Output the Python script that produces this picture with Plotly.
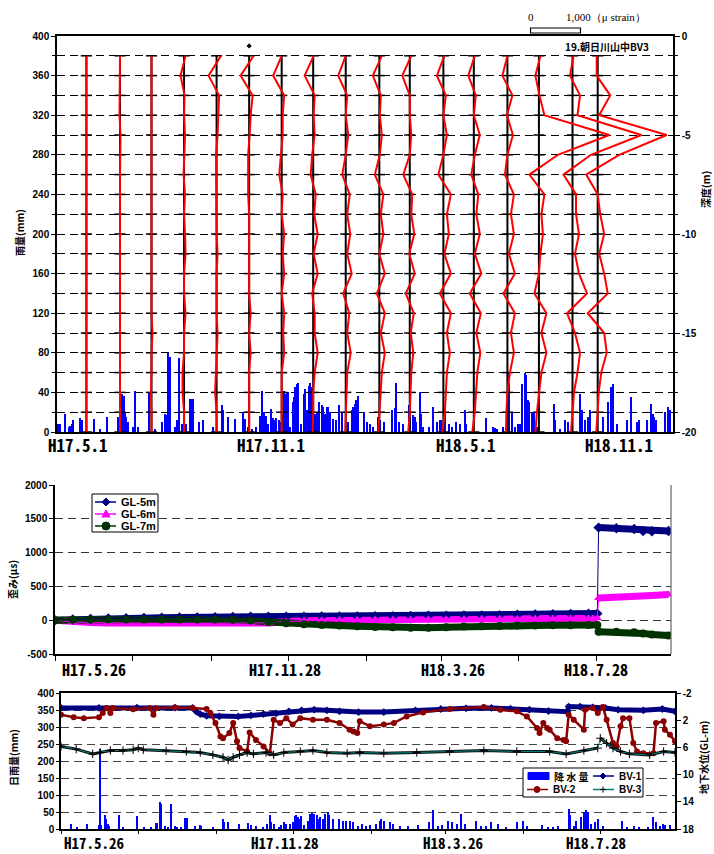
import numpy as np
import pandas as pd
import plotly.graph_objects as go

FIG_W, FIG_H = 714, 854


def fx(p):
    return p / FIG_W


def fy(p):
    return 1 - p / FIG_H


# ------------------------------------------------------------------
# Panel 1 : daily rainfall and monthly strain profiles (BV3)
# ------------------------------------------------------------------
TOP_START = pd.Timestamp("2005-04-03")
TOP_END = pd.Timestamp("2006-11-10 17:00")

# (day offset from TOP_START, daily rainfall mm)
RAIN_TOP = [
    (1, 8), (3, 8), (8, 18), (11, 5), (12, 6), (14, 8), (15, 12), (22, 14), (24, 12), (35, 13),
    (41, 3), (48, 15), (58, 15), (62, 38), (64, 36), (65, 20), (66, 15), (68, 10), (72, 5), (74, 41),
    (77, 5), (88, 40), (93, 3), (100, 10), (103, 18), (104, 17), (106, 80), (108, 76), (112, 5), (114, 12),
    (116, 75), (119, 8), (120, 5), (123, 8), (127, 33), (128, 33), (130, 33), (135, 10), (139, 12), (149, 5),
    (157, 27), (158, 22), (163, 15), (170, 13), (177, 20), (179, 13), (182, 5), (186, 3), (190, 5), (193, 16),
    (195, 41), (197, 20), (199, 16), (201, 8), (204, 23), (206, 14), (208, 12), (209, 14), (211, 12), (212, 10),
    (214, 18), (216, 41), (217, 38), (219, 40), (220, 40), (222, 5), (225, 30), (226, 35), (227, 45), (229, 48),
    (230, 49), (232, 8), (235, 38), (236, 43), (238, 22), (239, 22), (240, 46), (241, 49), (242, 45), (244, 43),
    (246, 18), (248, 20), (249, 18), (250, 30), (252, 27), (253, 25), (255, 18), (257, 25), (258, 25), (260, 20),
    (263, 13), (266, 12), (269, 27), (271, 20), (277, 10), (281, 22), (282, 25), (284, 28), (285, 32), (287, 36),
    (292, 20), (295, 10), (298, 8), (301, 5), (306, 15), (308, 12), (311, 10), (319, 22), (322, 24), (323, 50),
    (326, 10), (330, 8), (335, 27), (336, 15), (339, 17), (341, 15), (342, 10), (346, 40), (347, 18), (349, 5),
    (354, 5), (358, 25), (362, 10), (365, 12), (366, 12), (370, 22), (373, 8), (376, 5), (380, 10), (384, 8),
    (389, 22), (390, 8), (409, 14), (415, 5), (417, 4), (419, 3), (425, 5), (428, 5), (430, 60), (431, 50),
    (433, 20), (436, 5), (439, 8), (441, 8), (443, 48), (446, 60), (447, 58), (449, 32), (450, 30), (452, 20),
    (454, 20), (457, 5), (473, 28), (474, 12), (479, 3), (484, 12), (487, 10), (498, 38), (500, 22), (503, 12),
    (506, 15), (508, 22), (514, 5), (520, 15), (525, 30), (528, 45), (530, 48), (533, 8), (543, 12), (547, 35),
    (552, 10), (554, 12), (562, 12), (566, 28), (568, 18), (569, 15), (571, 12), (579, 20), (582, 25), (584, 22),
]
rain_top_day = [d for d, _ in RAIN_TOP]
rain_top_mm = [v for _, v in RAIN_TOP]

PROFILE_DATES = [
    "2005-05-01", "2005-06-02", "2005-07-02", "2005-08-02", "2005-09-02", "2005-10-03",
    "2005-11-03", "2005-12-03", "2006-01-03", "2006-02-04", "2006-03-05", "2006-04-06",
    "2006-05-05", "2006-06-06", "2006-07-06", "2006-08-07", "2006-08-31",
]
DEPTHS = [-1, -2, -3, -4, -5, -6, -7, -8, -9, -10, -11, -12, -13, -14, -15, -16, -17, -18, -19, -20]

# strain (micro strain) at each depth, one row per measurement date
PROFILES = [
    [0, 0, 0, 0, 0, 0, 0, 0, 0, 0, 0, 0, 0, 0, 0, 0, 0, 0, 0, 0],
    [0, 0, 0, -10, 10, 0, 0, 0, 0, 0, 0, 0, 0, 0, 0, 10, 0, 0, 0, 0],
    [0, 0, 0, 0, 0, 0, 0, 0, 0, 0, 0, 0, 0, 0, 20, 0, 0, -10, 0, 0],
    [30, -70, 10, 0, 20, 0, -10, 20, 0, 20, 30, 0, 0, 30, 0, 0, -30, -30, 0, 0],
    [90, -160, 50, 40, 20, -10, -10, 0, 0, 0, 20, 0, 0, 0, 20, 0, -10, -30, 0, 0],
    [90, -170, 70, 30, 10, -20, -20, -20, 0, 0, 0, 0, 0, 30, 0, 30, 0, 0, 0, 0],
    [0, -170, 50, 20, 20, -20, -50, 20, 0, 50, 20, 50, 0, 50, 30, 50, 0, 0, 0, 0],
    [10, -170, 30, 10, 30, -20, -50, 50, 20, 90, 10, 90, -20, 30, 30, 90, 30, 0, 0, -10],
    [0, -150, 30, 0, 50, 0, -70, 80, 30, 90, 30, 120, -50, 70, 30, 100, 30, 20, 0, -10],
    [50, -130, 30, 10, 50, 10, -90, 80, 30, 80, 0, 110, -50, 110, 30, 110, 50, 30, 0, -20],
    [30, -150, 0, 0, 30, 0, -130, 50, 30, 90, -10, 100, -80, 80, 20, 70, 30, 20, 0, -30],
    [20, -130, 50, 0, 70, 0, -100, 150, 70, 110, 20, 150, -70, 150, 70, 130, 70, 50, 30, -20],
    [20, -110, 40, 0, 120, 20, -50, 90, 50, 120, 20, 150, -80, 140, 50, 130, 70, 40, 20, -30],
    [0, -100, 100, -10, 110, 0, -50, 130, 70, 130, 30, 150, -80, 150, 70, 130, 50, 0, -20, -30],
    [30, -70, 10, 110, 1410, 380, -190, 110, 50, 80, 30, 0, -90, 150, 50, 150, 50, 0, -40, -70],
    [20, -50, 150, 100, 1380, 370, -180, 70, 70, 130, 50, 130, 290, -110, 50, 150, 100, 30, 0, -30],
    [-20, -20, 250, 30, 1380, 430, -230, 0, 50, 130, 30, 130, 200, -200, 130, 180, 70, 20, 0, -30],
]
STRAY_POINT = ("2005-10-03", -0.5)

# horizontal scale of the profiles: 1,000 micro strain drawn as 47.6 days of axis
DAYS_PER_USTRAIN = 47.6 / 1000.0
SCALE_BAR_START = pd.Timestamp("2006-06-28")
SCALE_BAR_USTRAIN = 1000

TOP_TICK_TEXT = ["H17.5.1", "H17.11.1", "H18.5.1", "H18.11.1"]
TOP_TICK_PX = [78, 271, 466, 619]

# ------------------------------------------------------------------
# Panel 2 : strain gauge record GL-5m / GL-6m / GL-7m
# ------------------------------------------------------------------
SERIES_START = pd.Timestamp("2005-05-26")
SERIES_END = pd.Timestamp("2006-09-23")

STRAIN_DAY = [0, 14, 28, 42, 56, 70, 84, 98, 112, 126, 140, 154, 168, 182, 196, 210, 224, 238, 252,
              266, 280, 294, 308, 322, 336, 350, 364, 378, 392, 406, 420, 427, 428, 442, 456, 463,
              470, 483]
GL5 = [0, 10, 20, 25, 30, 35, 38, 40, 42, 45, 48, 50, 50, 52, 53, 55, 55, 56, 58, 60, 62, 65, 68,
       70, 72, 75, 80, 85, 88, 92, 95, 98, 1370, 1360, 1350, 1320, 1315, 1320]
GL6 = [0, -25, -35, -40, -40, -42, -45, -45, -45, -48, -50, -50, -40, -20, -5, 0, 5, 8, 10, 12,
       12, 15, 15, 18, 20, 22, 22, 25, 25, 28, 30, 30, 330, 335, 345, 355, 365, 380]
GL7 = [0, 5, 8, 10, 10, 10, 12, 12, 10, 10, 5, -5, -25, -45, -60, -70, -80, -90, -100, -105,
       -110, -110, -105, -95, -90, -85, -80, -80, -75, -75, -72, -72, -170, -172, -178, -195,
       -210, -225]
STRAIN_JUMP_DAY = 428

SERIES_TICK_TEXT = ["H17.5.26", "H17.11.28", "H18.3.26", "H18.7.28"]
SERIES_TICK_PX = [94, 285, 453, 596]

# ------------------------------------------------------------------
# Panel 3 : daily rainfall and groundwater level (GL-m)
# ------------------------------------------------------------------
RAIN_BOT = [
    (8, 14), (13, 3), (21, 15), (30, 12), (31, 235), (32, 12), (35, 40), (36, 30), (37, 15), (38, 10),
    (46, 40), (49, 5), (60, 38), (66, 5), (71, 5), (75, 18), (76, 18), (78, 80), (79, 75), (82, 10),
    (85, 5), (87, 75), (90, 8), (92, 5), (95, 5), (98, 32), (100, 32), (106, 10), (110, 12), (111, 8),
    (120, 5), (128, 28), (129, 22), (132, 20), (141, 15), (148, 18), (150, 12), (154, 8), (160, 5), (163, 15),
    (165, 40), (166, 20), (168, 15), (172, 5), (174, 12), (176, 20), (178, 15), (181, 15), (183, 22), (185, 38),
    (186, 40), (187, 35), (189, 30), (190, 38), (192, 12), (195, 25), (197, 45), (198, 48), (200, 45), (202, 40),
    (203, 30), (205, 35), (207, 30), (209, 45), (211, 50), (212, 40), (215, 30), (220, 30), (223, 25), (225, 25),
    (228, 25), (231, 20), (235, 10), (238, 15), (241, 10), (244, 12), (249, 15), (252, 25), (253, 30), (255, 25),
    (260, 20), (262, 15), (268, 10), (274, 10), (282, 12), (291, 20), (294, 55), (298, 10), (301, 12), (306, 25),
    (309, 20), (313, 15), (316, 45), (319, 15), (328, 25), (332, 10), (336, 10), (340, 20), (345, 15), (352, 5),
    (360, 20), (365, 25), (368, 8), (380, 12), (385, 5), (389, 5), (393, 10), (401, 60), (402, 40), (405, 8),
    (407, 25), (411, 35), (413, 50), (415, 55), (416, 50), (419, 15), (422, 20), (424, 30), (428, 10), (443, 25),
    (447, 5), (453, 8), (457, 5), (464, 5), (468, 35), (470, 20), (473, 10), (476, 15), (477, 12), (481, 12),
]
rain_bot_day = [d for d, _ in RAIN_BOT]
rain_bot_mm = [v for _, v in RAIN_BOT]

# groundwater level, metres below ground
BV1 = [
    (0, 0.2), (30, 0.2), (60, 0.15), (90, 0.15), (104, 0.2), (107, 0.75), (110, 1.1), (115, 1.35),
    (125, 1.45), (140, 1.45), (150, 1.3), (160, 1.1), (170, 1.0), (180, 0.7), (190, 0.55), (200, 0.45),
    (210, 0.55), (220, 0.7), (235, 0.8), (255, 0.8), (280, 0.55), (300, 0.35), (320, 0.25), (340, 0.2),
    (355, 0.3), (370, 0.45), (385, 0.65), (400, 0.75), (401, 0.0), (410, 0.0), (420, 0.1), (430, 0.2),
    (440, 0.45), (460, 0.55), (475, 0.35), (485, 0.7),
]
BV2 = [
    (0, 1.2), (10, 1.55), (18, 1.7), (30, 1.55), (33, 0.95), (36, 0.2), (39, 0.95), (41, 0.2),
    (57, 0.4), (70, 0.2), (73, 1.2), (75, 0.25), (90, 0.15), (104, 0.2), (115, 0.35), (118, 0.95),
    (122, 2.4), (126, 4.4), (128, 4.65), (133, 3.9), (136, 2.4), (139, 5.1), (141, 6.1), (147, 6.6),
    (149, 3.8), (154, 4.9), (160, 5.85), (165, 6.85), (168, 1.95), (173, 2.4), (178, 1.7), (183, 2.65),
    (189, 1.7), (199, 1.95), (210, 1.95), (220, 2.4), (228, 3.4), (231, 3.65), (234, 3.9), (236, 2.15),
    (244, 2.9), (255, 2.65), (263, 2.4), (273, 1.45), (286, 0.85), (307, 0.35), (334, 0.05), (347, 0.45),
    (360, 0.7), (368, 1.45), (376, 3.15), (378, 3.9), (381, 2.4), (384, 3.15), (386, 3.4), (392, 4.65),
    (397, 4.9), (399, 5.1), (401, 1.2), (405, 1.95), (413, 3.4), (414, 0.45), (420, 0.2), (424, 0.95),
    (428, 0.05), (431, 1.95), (436, 5.35), (439, 5.85), (442, 2.9), (444, 1.7), (449, 1.7), (452, 5.35),
    (455, 6.6), (460, 6.85), (468, 6.85), (470, 2.4), (476, 2.15), (477, 3.4), (481, 4.15), (485, 5.1),
]
BV3 = [
    (0, 5.85), (12, 6.25), (25, 6.95), (31, 6.75), (39, 6.45), (49, 6.45), (57, 6.35), (61, 6.1),
    (65, 6.35), (83, 6.5), (99, 6.6), (110, 6.75), (120, 7.1), (128, 7.45), (132, 7.85), (136, 7.45),
    (141, 7.1), (147, 6.75), (152, 6.95), (162, 6.75), (168, 7.1), (176, 6.75), (189, 6.6), (199, 6.45),
    (210, 6.75), (226, 6.85), (236, 6.75), (255, 6.85), (281, 6.75), (307, 6.6), (334, 6.45), (360, 6.6),
    (386, 6.6), (399, 6.95), (413, 6.45), (424, 6.1), (426, 4.65), (431, 5.4), (436, 6.1), (442, 6.6),
    (449, 6.95), (465, 7.1), (476, 6.6), (485, 6.75),
]
BV3_RISE_DAY = 426


def to_dates(start, days):
    return start + pd.to_timedelta(np.asarray(days, dtype=float), unit="D")


def band(x, y, break_idx):
    """Same series with a gap before break_idx (thick band without the jump segment)."""
    xs = list(x[:break_idx]) + [None] + list(x[break_idx:])
    ys = list(y[:break_idx]) + [None] + list(y[break_idx:])
    return xs, ys


BOLD = "bold"
NUM_FONT = dict(family="Liberation Sans, Arial, sans-serif", size=10, color="black", weight=BOLD)
JP_FONT = dict(family="Noto Sans CJK JP, sans-serif", size=10, color="black", weight=BOLD)
DATE_FONT = dict(family="Noto Sans Mono CJK JP, DejaVu Sans Mono, monospace",
                 size=17, color="black", weight=BOLD)
LEG_FONT = dict(family="Liberation Sans, Arial, sans-serif", size=11, color="black", weight=BOLD)
DASH = "8px,5px"

fig = go.Figure()

# ---- panel 1 traces
fig.add_trace(go.Bar(
    x=to_dates(TOP_START, rain_top_day), y=rain_top_mm, xaxis="x", yaxis="y",
    marker=dict(color="#0000FF", line=dict(width=0)), width=86400000 * 1.0,
    showlegend=False, hoverinfo="skip"))

for d in PROFILE_DATES:
    fig.add_trace(go.Scatter(
        x=[pd.Timestamp(d)] * len(DEPTHS), y=DEPTHS, xaxis="x", yaxis="y2",
        mode="lines+markers", line=dict(color="black", width=2),
        marker=dict(symbol="line-ew", size=8, line=dict(color="black", width=1.5)),
        showlegend=False, hoverinfo="skip"))

for d, prof in zip(PROFILE_DATES, PROFILES):
    xs = pd.Timestamp(d) + pd.to_timedelta(np.asarray(prof, dtype=float) * DAYS_PER_USTRAIN, unit="D")
    fig.add_trace(go.Scatter(
        x=xs, y=DEPTHS, xaxis="x", yaxis="y2", mode="lines",
        line=dict(color="#FF0000", width=2), showlegend=False, hoverinfo="skip"))

fig.add_trace(go.Scatter(
    x=[pd.Timestamp(STRAY_POINT[0])], y=[STRAY_POINT[1]], xaxis="x", yaxis="y2", mode="markers",
    marker=dict(symbol="diamond", size=4, color="black"), showlegend=False, hoverinfo="skip"))

# ---- panel 2 traces
strain_dates = to_dates(SERIES_START, STRAIN_DAY)
jump_idx = STRAIN_DAY.index(STRAIN_JUMP_DAY)
GL_COLORS = {"GL-5m": "#000080", "GL-6m": "#FF00FF", "GL-7m": "#003300"}
strain_series = [
    ("GL-5m", GL5, "diamond"),
    ("GL-6m", GL6, "triangle-up"),
    ("GL-7m", GL7, "circle"),
]
for name, vals, sym in strain_series:
    bx, by = band(strain_dates, vals, jump_idx)
    fig.add_trace(go.Scatter(
        x=bx, y=by, xaxis="x2", yaxis="y3", mode="lines",
        line=dict(color=GL_COLORS[name], width=7), showlegend=False, hoverinfo="skip"))
for name, vals, sym in strain_series:
    fig.add_trace(go.Scatter(
        x=strain_dates, y=vals, xaxis="x2", yaxis="y3", mode="lines+markers", name=name,
        line=dict(color=GL_COLORS[name], width=1),
        marker=dict(symbol=sym, size=8, color=GL_COLORS[name]),
        showlegend=False, hoverinfo="skip"))

# ---- panel 3 traces
fig.add_trace(go.Bar(
    x=to_dates(SERIES_START, rain_bot_day), y=rain_bot_mm, xaxis="x3", yaxis="y4",
    marker=dict(color="#0000FF", line=dict(width=0)), width=86400000 * 1.0,
    name="降水量", showlegend=False, hoverinfo="skip"))

bv1_d = to_dates(SERIES_START, [d for d, _ in BV1])
bv1_v = [v for _, v in BV1]
bv2_d = to_dates(SERIES_START, [d for d, _ in BV2])
bv2_v = [v for _, v in BV2]
bv3_days = [d for d, _ in BV3]
bv3_d = to_dates(SERIES_START, bv3_days)
bv3_v = [v for _, v in BV3]

BV1_COLOR, BV2_COLOR, BV3_LINE = "#000080", "#8B0000", "#008080"

fig.add_trace(go.Scatter(
    x=bv1_d, y=bv1_v, xaxis="x3", yaxis="y5", mode="lines",
    line=dict(color=BV1_COLOR, width=5), showlegend=False, hoverinfo="skip"))
fig.add_trace(go.Scatter(
    x=bv1_d, y=bv1_v, xaxis="x3", yaxis="y5", mode="lines+markers", name="BV-1",
    line=dict(color=BV1_COLOR, width=1), marker=dict(symbol="diamond", size=6, color=BV1_COLOR),
    showlegend=False, hoverinfo="skip"))

fig.add_trace(go.Scatter(
    x=bv2_d, y=bv2_v, xaxis="x3", yaxis="y5", mode="lines+markers", name="BV-2",
    line=dict(color=BV2_COLOR, width=2.5), marker=dict(symbol="circle", size=6, color=BV2_COLOR),
    showlegend=False, hoverinfo="skip"))

rise_idx = bv3_days.index(BV3_RISE_DAY)
b3x, b3y = band(bv3_d, bv3_v, rise_idx)
fig.add_trace(go.Scatter(
    x=b3x, y=b3y, xaxis="x3", yaxis="y5", mode="lines",
    line=dict(color="#111111", width=3), showlegend=False, hoverinfo="skip"))
fig.add_trace(go.Scatter(
    x=bv3_d, y=bv3_v, xaxis="x3", yaxis="y5", mode="lines+markers", name="BV-3",
    line=dict(color=BV3_LINE, width=1),
    marker=dict(symbol="cross-thin", size=6, color="black", line=dict(color="black", width=1)),
    showlegend=False, hoverinfo="skip"))

# ------------------------------------------------------------------
# axes
# ------------------------------------------------------------------
axis_common = dict(showline=True, linecolor="black", linewidth=1.5, tickfont=NUM_FONT,
                   ticks="outside", tickcolor="black", zeroline=False, automargin=False)

fig.update_layout(
    xaxis=dict(domain=[fx(57), fx(673)], anchor="y", type="date",
               range=[TOP_START, TOP_END], showline=True, linecolor="black", linewidth=1.5,
               mirror=True, showticklabels=False, ticks="", showgrid=False, zeroline=False,
               automargin=False),
    yaxis=dict(domain=[fy(432), fy(36)], anchor="x", range=[0, 400], tickvals=list(range(0, 401, 40)),
               ticklen=4, showgrid=False,
               minor=dict(dtick=20, ticks="outside", ticklen=3, tickcolor="black"),
               **axis_common),
    yaxis2=dict(overlaying="y", side="right", anchor="x", range=[-20, 0],
                tickvals=[0, -5, -10, -15, -20], ticktext=["0", "-5", "-10", "-15", "-20"],
                ticklen=5, showgrid=True, gridcolor="black", gridwidth=1, griddash=DASH,
                minor=dict(dtick=1, showgrid=True, gridcolor="black", gridwidth=1, griddash=DASH,
                           ticks="outside", ticklen=3, tickcolor="black"),
                **axis_common),

    xaxis2=dict(domain=[fx(55), fx(671)], anchor="y3", type="date",
                range=[SERIES_START, SERIES_END], showline=True, linecolor="black", linewidth=1.5,
                tick0=SERIES_START, dtick="M2", ticks="outside", ticklen=5, tickcolor="black",
                showticklabels=False, showgrid=False, zeroline=False, automargin=False),
    yaxis3=dict(domain=[fy(654), fy(485)], anchor="x2", range=[-500, 2000],
                tickvals=[-500, 0, 500, 1000, 1500, 2000],
                ticktext=["-500", "0", "500", "1000", "1500", "2000"], ticklen=4,
                showgrid=True, gridcolor="#333333", gridwidth=1, griddash=DASH, **axis_common),

    xaxis3=dict(domain=[fx(61), fx(675)], anchor="y4", type="date",
                range=[SERIES_START, SERIES_END], showline=True, linecolor="black", linewidth=1.5,
                mirror=True, tick0=SERIES_START, dtick="M2", ticks="outside", ticklen=3,
                tickcolor="black", showticklabels=False, showgrid=False, zeroline=False,
                automargin=False),
    yaxis4=dict(domain=[fy(829), fy(693)], anchor="x3", range=[0, 400],
                tickvals=list(range(0, 401, 50)), ticklen=3,
                showgrid=True, gridcolor="#444444", gridwidth=1, griddash=DASH, **axis_common),
    yaxis5=dict(overlaying="y4", side="right", anchor="x3", range=[18, -2],
                tickvals=[-2, 2, 6, 10, 14, 18], ticktext=["-2", "2", "6", "10", "14", "18"],
                ticklen=4, showgrid=False, **axis_common),
)

# ------------------------------------------------------------------
# shapes: scale bar, frames and hand-drawn legend keys
# ------------------------------------------------------------------
shapes = [
    dict(type="rect", xref="x", yref="paper",
         x0=SCALE_BAR_START,
         x1=SCALE_BAR_START + pd.Timedelta(days=SCALE_BAR_USTRAIN * DAYS_PER_USTRAIN),
         y0=fy(33), y1=fy(28), line=dict(color="black", width=1.2), fillcolor="white"),
    dict(type="line", xref="paper", yref="paper", x0=fx(671), x1=fx(671), y0=fy(654), y1=fy(485),
         line=dict(color="#666666", width=1.2)),
]


def key_line(x0, x1, y, color, width=1.5):
    return dict(type="line", xref="paper", yref="paper", x0=fx(x0), x1=fx(x1), y0=fy(y), y1=fy(y),
                line=dict(color=color, width=width), layer="above")


def key_path(points, color, fill=True):
    path = "M " + " L ".join(f"{fx(px):.5f},{fy(py):.5f}" for px, py in points) + " Z"
    return dict(type="path", xref="paper", yref="paper", path=path, layer="above",
                line=dict(color=color, width=1), fillcolor=color if fill else "rgba(0,0,0,0)")


def key_circle(cx, cy, r, color):
    return dict(type="circle", xref="paper", yref="paper", x0=fx(cx - r), x1=fx(cx + r),
                y0=fy(cy + r), y1=fy(cy - r), line=dict(color=color, width=1),
                fillcolor=color, layer="above")


def key_box(x0, y0, x1, y1, fill="white", line="black"):
    return dict(type="rect", xref="paper", yref="paper", x0=fx(x0), x1=fx(x1), y0=fy(y1), y1=fy(y0),
                line=dict(color=line, width=1), fillcolor=fill, layer="above")


def label(text, px, py, font, xanchor="center", angle=0, xref="paper"):
    return dict(text=text, x=fx(px) if xref == "paper" else px, xref=xref, y=fy(py), yref="paper",
                xanchor=xanchor, yanchor="middle", textangle=angle, showarrow=False, font=font)


ann = []

# strain legend (box, keys, labels)
shapes.append(key_box(92, 494, 158, 532))
mid_rows = [("GL-5m", 502), ("GL-6m", 514), ("GL-7m", 526)]
for (name, yy), (_, _, sym) in zip(mid_rows, strain_series):
    col = GL_COLORS[name]
    shapes.append(key_line(95, 116, yy, col))
    if sym == "diamond":
        shapes.append(key_path([(106, yy - 4), (110, yy), (106, yy + 4), (102, yy)], col))
    elif sym == "triangle-up":
        shapes.append(key_path([(106, yy - 4), (110, yy + 3), (102, yy + 3)], col))
    else:
        shapes.append(key_circle(106, yy, 4, col))
    ann.append(label(name, 119, yy, LEG_FONT, xanchor="left"))

# groundwater legend
ROW1, ROW2 = 776, 789.5
shapes.append(key_box(523, 768, 643, 797))
shapes.append(key_box(528, ROW1 - 3.5, 549, ROW1 + 3.5, fill="#0000FF", line="#0000FF"))
ann.append(label("降 水 量", 552, ROW1, JP_FONT, xanchor="left"))
shapes.append(key_line(593, 614, ROW1, BV1_COLOR))
shapes.append(key_path([(603, ROW1 - 3), (606, ROW1), (603, ROW1 + 3), (600, ROW1)], BV1_COLOR))
ann.append(label("BV-1", 617, ROW1, dict(LEG_FONT, size=10), xanchor="left"))
shapes.append(key_line(527, 548, ROW2, BV2_COLOR))
shapes.append(key_circle(537, ROW2, 3, BV2_COLOR))
ann.append(label("BV-2", 551, ROW2, dict(LEG_FONT, size=10), xanchor="left"))
shapes.append(key_line(593, 614, ROW2, BV3_LINE))
shapes.append(key_line(600, 606, ROW2, "black", 1))
shapes.append(dict(type="line", xref="paper", yref="paper", x0=fx(603), x1=fx(603), y0=fy(ROW2 + 3),
                   y1=fy(ROW2 - 3), line=dict(color="black", width=1), layer="above"))
ann.append(label("BV-3", 617, ROW2, dict(LEG_FONT, size=10), xanchor="left"))

# scale bar text and station title
SERIF = dict(family="Liberation Serif, serif", size=11, color="black")
ann.append(label("0", SCALE_BAR_START, 17, SERIF, xref="x"))
ann.append(label("1,000（μ strain）", 564, 17, SERIF, xanchor="left"))
ann.append(label("19.朝日川山中BV3", 651, 47, JP_FONT, xanchor="right"))

# date labels under each panel
for txt, px in zip(TOP_TICK_TEXT, TOP_TICK_PX):
    ann.append(label(txt, px, 444, DATE_FONT))
for txt, px in zip(SERIES_TICK_TEXT, SERIES_TICK_PX):
    ann.append(label(txt, px, 669, dict(DATE_FONT, size=16)))
for txt, px in zip(SERIES_TICK_TEXT, SERIES_TICK_PX):
    ann.append(label(txt, px, 842, dict(DATE_FONT, size=15)))

# axis titles
ann.append(label("雨量(mm)", 20, 233, JP_FONT, angle=-90))
ann.append(label("深度(m)", 705, 190, JP_FONT, angle=-90))
ann.append(label("歪み(μs)", 12, 580, JP_FONT, angle=-90))
ann.append(label("日雨量(mm)", 13, 758, JP_FONT, angle=-90))
ann.append(label("地下水位(GL-m)", 703, 758, JP_FONT, angle=-90))

fig.update_layout(
    width=FIG_W, height=FIG_H, margin=dict(l=0, r=0, t=0, b=0, autoexpand=False),
    paper_bgcolor="white", plot_bgcolor="white", bargap=0, showlegend=False,
    shapes=shapes, annotations=ann,
)

fig.write_html("out.html")
